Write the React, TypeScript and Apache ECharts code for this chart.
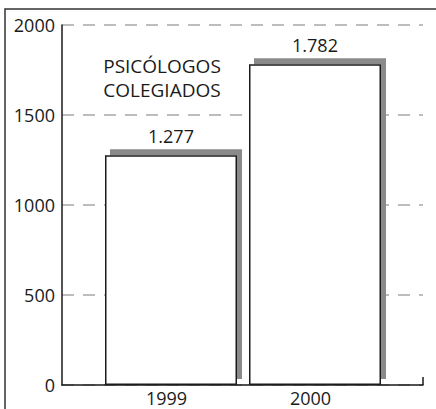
import React, { useEffect, useRef } from 'react';
import * as echarts from 'echarts';

const years = ['1999', '2000'];
const psychologists = [1277, 1782];
const yTicks = [0, 500, 1000, 1500, 2000];
const chartTitle = 'PSICÓLOGOS\nCOLEGIADOS';

const fmt = (v: number) => {
  const s = String(Math.round(v));
  return s.length > 3 ? s.slice(0, -3) + '.' + s.slice(-3) : s;
};

export default function App() {
  const ref = useRef<HTMLDivElement>(null);
  useEffect(() => {
    document.body.style.margin = '0';
    const chart = echarts.init(ref.current!, null, { renderer: 'svg' });
    const font = '"Open Sans", "Noto Sans", sans-serif';
    const ink = '#1a1a1a';
    chart.setOption({
      animation: false,
      backgroundColor: '#ffffff',
      title: {
        text: chartTitle,
        left: 157,
        top: 49,
        textAlign: 'center',
        textStyle: { fontFamily: font, fontSize: 19, fontWeight: 'normal', color: ink, lineHeight: 24 },
      },
      grid: [
        { left: 62, right: 13, top: 25, bottom: 24 },
        { left: 99, right: 49, top: 25, bottom: 24 },
      ],
      xAxis: [
        {
          type: 'value', gridIndex: 0, min: 0, max: 1,
          axisLine: { show: true, onZero: false, lineStyle: { color: ink, width: 1.5 } },
          axisTick: { show: false }, axisLabel: { show: false }, splitLine: { show: false },
        },
        {
          type: 'category', gridIndex: 1, data: years,
          axisLine: { show: false }, axisTick: { show: false },
          axisLabel: { margin: 4, fontFamily: font, fontSize: 18, color: ink, padding: [0, 9, 0, 0] },
        },
      ],
      yAxis: [
        {
          type: 'value', gridIndex: 0,
          min: yTicks[0], max: yTicks[yTicks.length - 1], interval: yTicks[1] - yTicks[0],
          axisLine: { show: true, lineStyle: { color: ink, width: 1.5 } },
          axisTick: { show: false },
          axisLabel: { margin: 7, fontFamily: font, fontSize: 18, color: ink, formatter: (v: number) => String(v) },
          splitLine: { show: true, lineStyle: { type: [12, 9], color: '#a8a8a8', width: 1.5 } },
        },
        {
          type: 'value', gridIndex: 1,
          min: yTicks[0], max: yTicks[yTicks.length - 1], interval: yTicks[1] - yTicks[0],
          show: false, splitLine: { show: false },
        },
      ],
      series: [
        {
          type: 'bar', xAxisIndex: 1, yAxisIndex: 1, data: psychologists, barWidth: 132,
          itemStyle: {
            color: '#ffffff', borderColor: ink, borderWidth: 1.5,
            shadowColor: '#8a8a8a', shadowBlur: 0, shadowOffsetX: 5, shadowOffsetY: -6,
          },
          label: {
            show: true, position: 'top', distance: 10,
            formatter: (p: any) => fmt(p.value),
            fontFamily: font, fontSize: 18, color: ink,
          },
        },
      ],
      graphic: [
        { type: 'rect', shape: { x: 5, y: 9, width: 460, height: 440 }, style: { fill: 'none', stroke: '#333', lineWidth: 1.5 }, z: 100 },
        { type: 'line', shape: { x1: 423, y1: 385, x2: 423, y2: 377 }, style: { stroke: ink, lineWidth: 1.5 }, z: 100 },
      ],
    });
    return () => chart.dispose();
  }, []);
  return <div ref={ref} style={{ width: 436, height: 409 }} />;
}
